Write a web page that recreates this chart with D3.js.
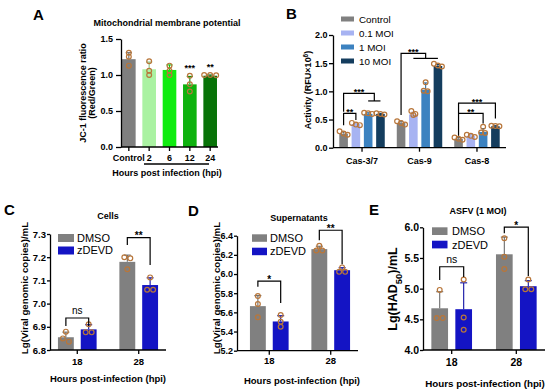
<!DOCTYPE html>
<html>
<head>
<meta charset="utf-8">
<script src="https://cdn.jsdelivr.net/npm/d3@7"></script>
<style>
  body { margin: 0; background: #fff; }
  svg text { font-family: "Liberation Sans", Arial, sans-serif; }
</style>
</head>
<body>
<svg id="fig" width="550" height="392"></svg>
<script>
// ---------- data ----------
// A: JC-1 ratio
var mmpGroups = ["Control", "2", "6", "12", "24"];
var mmpMean = [1.22, 1.08, 1.07, 0.87, 0.99];
var mmpSd = [0.09, 0.10, 0.07, 0.11, 0.01];
var mmpPts = [[1.31, 1.255, 1.13], [1.19, 1.06, 1.00], [1.13, 1.06, 1.00], [0.99, 0.87, 0.77], [1.00, 0.995, 1.00]];
var mmpStars = ["", "", "", "***", "**"];

// B: caspase activity
var casGroups = ["Cas-3/7", "Cas-9", "Cas-8"];
var moiNames = ["Control", "0.1 MOI", "1 MOI", "10 MOI"];
var casControl = [0.25, 0.44, 0.16];
var cas01 = [0.42, 0.59, 0.21];
var cas1 = [0.60, 1.03, 0.28];
var cas10 = [0.60, 1.45, 0.38];
var casControlSd = [0.03, 0.03, 0.02];
var cas01Sd = [0.02, 0.04, 0.02];
var cas1Sd = [0.02, 0.12, 0.06];
var cas10Sd = [0.01, 0.03, 0.01];
var casControlPts = [[0.29, 0.25, 0.23], [0.47, 0.44, 0.41], [0.18, 0.16, 0.14]];
var cas01Pts = [[0.44, 0.41, 0.40], [0.65, 0.60, 0.58], [0.23, 0.21, 0.19]];
var cas1Pts = [[0.62, 0.61, 0.60], [1.16, 1.01, 1.00], [0.37, 0.27, 0.26]];
var cas10Pts = [[0.61, 0.60, 0.59], [1.49, 1.46, 1.44], [0.39, 0.385, 0.38]];
// significance: group, from series, to series span, label, bracket top, left leg end, right leg end
var casSig = [
  { group: "Cas-3/7", from: 0, to: [1, 1], label: "**", top: 0.61, left: 0.40, right: 0.49 },
  { group: "Cas-3/7", from: 0, to: [2, 3], label: "***", top: 0.965, left: 0.64, right: 0.83 },
  { group: "Cas-9", from: 0, to: [1, 3], label: "***", top: 1.675, left: 0.58, right: 1.585 },
  { group: "Cas-8", from: 0, to: [3, 3], label: "***", top: 0.79, left: 0.61, right: 0.52 },
  { group: "Cas-8", from: 0, to: [2, 2], label: "**", top: 0.61, left: 0.21, right: 0.43 }
];

// C, D, E: zDEVD experiments
var hpiGroups = ["18", "28"];
var treatNames = ["DMSO", "zDEVD"];

var cellsDMSO = [6.855, 7.18];
var cellsZdevd = [6.889, 7.08];
var cellsDMSOSd = [0.022, 0.029];
var cellsZdevdSd = [0.020, 0.031];
var cellsDMSOPts = [[6.879, 6.850, 6.836], [7.200, 7.195, 7.148]];
var cellsZdevdPts = [[6.911, 6.876, 6.876], [7.113, 7.060, 7.060]];
var cellsSig = [
  { group: "18", from: 0, to: [1, 1], label: "ns", top: 6.938, left: 6.903, right: 6.903 },
  { group: "28", from: 0, to: [1, 1], label: "**", top: 7.284, left: 7.253, right: 7.166 }
];

var supDMSO = [5.665, 6.26];
var supZdevd = [5.505, 6.04];
var supDMSOSd = [0.11, 0.03];
var supZdevdSd = [0.06, 0.026];
var supDMSOPts = [[5.77, 5.687, 5.548], [6.294, 6.246, 6.246]];
var supZdevdPts = [[5.572, 5.502, 5.45], [6.069, 6.023, 6.023]];
var supSig = [
  { group: "18", from: 0, to: [1, 1], label: "*", top: 5.926, left: 5.867, right: 5.697 },
  { group: "28", from: 0, to: [1, 1], label: "**", top: 6.457, left: 6.353, right: 6.103 }
];

var asfvDMSO = [4.68, 5.56];
var asfvZdevd = [4.665, 5.04];
var asfvDMSOSd = [0.27, 0.28];
var asfvZdevdSd = [0.43, 0.09];
var asfvDMSOPts = [[4.98, 4.52, 4.52], [5.82, 5.52, 5.32]];
var asfvZdevdPts = [[5.15, 4.53, 4.33], [5.15, 4.99, 4.99]];
var asfvSig = [
  { group: "18", from: 0, to: [1, 1], label: "ns", top: 5.357, left: 5.14, right: 5.19 },
  { group: "28", from: 0, to: [1, 1], label: "*", top: 6.003, left: 5.905, right: 5.205 }
];

// ---------- drawing ----------
var svg = d3.select("#fig");
var ptColor = "#b8763a";

function bold(sel, size) {
  return sel.attr("font-weight", "bold").attr("font-size", size);
}

// spread points that overlap in y, like a small beeswarm
function dodge(vals, y, gap) {
  var order = vals.map(function(v, i) { return { v: v, i: i, py: y(v) }; })
    .sort(function(a, b) { return a.py - b.py; });
  var out = new Array(vals.length).fill(0);
  var k = 0;
  while (k < order.length) {
    var j = k;
    while (j + 1 < order.length && order[j + 1].py - order[k].py < 3.5) j++;
    var n = j - k + 1;
    for (var m = 0; m < n; m++) out[order[k + m].i] = (m - (n - 1) / 2) * gap;
    k = j + 1;
  }
  return out;
}

function drawPanel(p) {
  var g = svg.append("g");
  var y = d3.scaleLinear().domain(p.yDomain).range(p.yRange);
  var x0 = d3.scaleBand().domain(p.groups).range(p.xRange)
    .paddingInner(p.pad0[0]).paddingOuter(p.pad0[1]);
  var x1 = d3.scaleBand().domain(d3.range(p.series.length)).range([0, x0.bandwidth()])
    .paddingInner(p.pad1[0]).paddingOuter(p.pad1[1]);
  var base = y(p.yDomain[0]);
  var bw = x1.bandwidth();

  p.series.forEach(function(s, j) {
    p.groups.forEach(function(grp, i) {
      var col = p.color(i, j);
      var cx = x0(grp) + x1(j) + bw / 2;
      var m = p.means[j][i];
      g.append("rect")
        .attr("x", x0(grp) + x1(j)).attr("width", bw)
        .attr("y", y(m)).attr("height", base - y(m))
        .attr("fill", col);
      var ec = d3.color(col).darker(0.5);
      var top = y(m + p.sds[j][i]);
      var cw = Math.min(bw * 0.45, 7);
      g.append("line").attr("x1", cx).attr("x2", cx).attr("y1", y(m)).attr("y2", top)
        .attr("stroke", ec).attr("stroke-width", 1.1);
      g.append("line").attr("x1", cx - cw / 2).attr("x2", cx + cw / 2).attr("y1", top).attr("y2", top)
        .attr("stroke", ec).attr("stroke-width", 1.1);
      var vals = p.pts[j][i];
      var off = dodge(vals, y, p.ptGap);
      g.selectAll(null).data(vals).enter().append("circle")
        .attr("cx", function(d, k) { return cx + off[k]; })
        .attr("cy", function(d) { return y(d); })
        .attr("r", 2.4)
        .attr("fill", "none")
        .attr("stroke", ptColor)
        .attr("stroke-width", 1.2);
    });
  });

  // y axis
  var ya = g.append("g").attr("transform", "translate(" + p.axisX + ",0)")
    .call(d3.axisLeft(y).tickValues(p.yTicks).tickFormat(d3.format(".1f"))
      .tickSize(p.tickSize).tickSizeOuter(0).tickPadding(p.tickPad));
  ya.select(".domain").attr("stroke-width", 1.3);
  ya.selectAll(".tick line").attr("stroke-width", 1.3);
  bold(ya.selectAll("text"), p.tickFont).attr("fill", "#000");

  // x axis
  g.append("line").attr("x1", p.axisX).attr("x2", p.xRange[1])
    .attr("y1", base).attr("y2", base).attr("stroke", "#000").attr("stroke-width", 1.3);
  p.groups.forEach(function(grp) {
    var cx = x0(grp) + x0.bandwidth() / 2;
    g.append("line").attr("x1", cx).attr("x2", cx).attr("y1", base).attr("y2", base + 4)
      .attr("stroke", "#000").attr("stroke-width", 1.3);
    bold(g.append("text"), p.xTickFont || p.tickFont).attr("x", cx).attr("y", p.xLabelY)
      .attr("text-anchor", "middle").text(grp);
  });

  // significance brackets
  (p.sig || []).forEach(function(s) {
    var xl = x0(s.group) + x1(s.from) + bw / 2;
    var xa = x0(s.group) + x1(s.to[0]) + bw / 2;
    var xb = x0(s.group) + x1(s.to[1]) + bw / 2;
    var xr = (xa + xb) / 2;
    var path = "M" + xl + "," + y(s.left) + "V" + y(s.top) + "H" + xr + "V" + y(s.right);
    g.append("path").attr("d", path).attr("fill", "none").attr("stroke", "#000").attr("stroke-width", 1.2);
    if (s.to[1] > s.to[0]) {
      g.append("line").attr("x1", xa).attr("x2", xb).attr("y1", y(s.right)).attr("y2", y(s.right))
        .attr("stroke", "#000").attr("stroke-width", 1.2);
    }
    var isNs = s.label === "ns";
    var t = g.append("text").attr("x", (xl + xr) / 2)
      .attr("y", y(s.top) - (isNs ? 4 : -1.5))
      .attr("text-anchor", "middle").text(s.label);
    if (isNs) t.attr("font-size", p.nsFont);
    else bold(t, p.starFont);
  });

  // per-bar stars (panel A)
  (p.stars || []).forEach(function(st, i) {
    if (!st) return;
    var grp = p.groups[i];
    var cx = x0(grp) + x0.bandwidth() / 2;
    bold(g.append("text"), 9).attr("x", cx).attr("y", y(p.means[0][i] + p.sds[0][i]) - 5)
      .attr("text-anchor", "middle").text(st);
  });

  // legend
  if (p.legend) {
    p.series.forEach(function(s, j) {
      var ly = p.legend.y + j * p.legend.dy;
      g.append("rect").attr("x", p.legend.x).attr("y", ly)
        .attr("width", p.legend.w).attr("height", p.legend.h).attr("fill", p.color(0, j));
      g.append("text").attr("x", p.legend.tx).attr("y", ly + p.legend.h / 2)
        .attr("dy", "0.36em").attr("font-size", p.legend.font).text(s);
    });
  }
  return { x0: x0, y: y };
}

function letter(txt, x, yb) {
  bold(svg.append("text"), 15).attr("x", x).attr("y", yb).text(txt);
}

function yLabel(lines, cy, size) {
  lines.forEach(function(l) {
    var t = bold(svg.append("text"), size)
      .attr("transform", "translate(" + l.x + "," + cy + ") rotate(-90)")
      .attr("text-anchor", "middle");
    l.parts.forEach(function(part) {
      var ts = t.append("tspan").text(part.t);
      if (part.sup) ts.attr("baseline-shift", "super").attr("font-size", size * 0.7);
      if (part.sub) ts.attr("baseline-shift", "sub").attr("font-size", size * 0.75);
    });
  });
}

function centerText(txt, x, yb, size) {
  return bold(svg.append("text"), size).attr("x", x).attr("y", yb).attr("text-anchor", "middle").text(txt);
}

// ----- Panel A -----
var greenCols = ["#7f7f7f", "#aaf2a2", "#10ec10", "#0eb20e", "#087308"];
drawPanel({
  groups: mmpGroups, series: ["ratio"],
  means: [mmpMean], sds: [mmpSd], pts: [mmpPts], stars: mmpStars,
  color: function(i) { return greenCols[i]; },
  yDomain: [0, 1.5], yRange: [147, 39], yTicks: [0, 0.5, 1.0, 1.5],
  xRange: [121, 218], axisX: 121, pad0: [0.33, 0.05], pad1: [0, 0],
  tickSize: 5, tickPad: 3, tickFont: 9, xLabelY: 160.5, ptGap: 6,
  starFont: 9, nsFont: 9
});
letter("A", 33, 20);
centerText("Mitochondrial membrane potential", 167, 25.5, 9);
svg.append("line").attr("x1", 144).attr("x2", 209).attr("y1", 164).attr("y2", 164)
  .attr("stroke", "#000").attr("stroke-width", 1.3);
centerText("Hours post infection (hpi)", 167, 176, 9);
yLabel([
  { x: 85.5, parts: [{ t: "JC-1 fluorescence ratio" }] },
  { x: 95, parts: [{ t: "(Red/Green)" }] }
], 93, 9);

// ----- Panel B -----
var blueCols = ["#808080", "#a7b3f2", "#3c82c0", "#143d5e"];
drawPanel({
  groups: casGroups, series: moiNames,
  means: [casControl, cas01, cas1, cas10],
  sds: [casControlSd, cas01Sd, cas1Sd, cas10Sd],
  pts: [casControlPts, cas01Pts, cas1Pts, cas10Pts],
  sig: casSig,
  color: function(i, j) { return blueCols[j]; },
  yDomain: [0, 2], yRange: [147.7, 35], yTicks: [0, 0.5, 1.0, 1.5, 2.0],
  xRange: [333, 506], axisX: 333, pad0: [0.1, 0.055], pad1: [0.3, 0.255],
  tickSize: 4, tickPad: 1.5, tickFont: 9, xLabelY: 163.5, ptGap: 4,
  starFont: 9, nsFont: 9,
  legend: { x: 341, y: 16.5, dy: 14, w: 13, h: 5, tx: 359, font: 9.8 }
});
letter("B", 286, 18.5);
yLabel([
  { x: 311, parts: [{ t: "Activity (RFU\u00d710" }, { t: "6", sup: true }, { t: ")" }] }
], 90, 9);

// ----- Panels C, D, E -----
var treatCols = ["#808080", "#1414c4"];
function treatColor(i, j) { return treatCols[j]; }

drawPanel({
  groups: hpiGroups, series: treatNames,
  means: [cellsDMSO, cellsZdevd], sds: [cellsDMSOSd, cellsZdevdSd],
  pts: [cellsDMSOPts, cellsZdevdPts], sig: cellsSig, color: treatColor,
  yDomain: [6.8, 7.3], yRange: [350, 234], yTicks: [6.8, 6.9, 7.0, 7.1, 7.2, 7.3],
  xRange: [50, 166], axisX: 50, pad0: [0.3, 0.094], pad1: [0.304, 0.095],
  tickSize: 3, tickPad: 1, tickFont: 9.5, xLabelY: 365, ptGap: 6,
  starFont: 10, nsFont: 10,
  legend: { x: 58, y: 234, dy: 12.5, w: 16, h: 8, tx: 77, font: 11 }
});
letter("C", 4, 215);
centerText("Cells", 108, 218.5, 9);
centerText("Hours post-infection (hpi)", 108, 381.5, 9.5);
yLabel([{ x: 27.5, parts: [{ t: "Lg(Viral genomic copies)/mL" }] }], 288, 9.7);

drawPanel({
  groups: hpiGroups, series: treatNames,
  means: [supDMSO, supZdevd], sds: [supDMSOSd, supZdevdSd],
  pts: [supDMSOPts, supZdevdPts], sig: supSig, color: treatColor,
  yDomain: [5.2, 6.4], yRange: [350.7, 235.7], yTicks: [5.2, 5.4, 5.6, 5.8, 6.0, 6.2, 6.4],
  xRange: [242, 358], axisX: 237, pad0: [0.3, 0.094], pad1: [0.304, 0.095],
  tickSize: 3, tickPad: 1, tickFont: 9, xTickFont: 9.5, xLabelY: 364, ptGap: 6,
  starFont: 10, nsFont: 10,
  legend: { x: 252, y: 234.3, dy: 13.4, w: 15, h: 7.5, tx: 270, font: 11 }
});
letter("D", 188, 216);
centerText("Supernatants", 299, 221, 9);
centerText("Hours post-infection (hpi)", 302, 383.5, 9.5);
yLabel([{ x: 219.5, parts: [{ t: "Lg(Viral genomic copies)/mL" }] }], 288, 9.7);

drawPanel({
  groups: hpiGroups, series: treatNames,
  means: [asfvDMSO, asfvZdevd], sds: [asfvDMSOSd, asfvZdevdSd],
  pts: [asfvDMSOPts, asfvZdevdPts], sig: asfvSig, color: treatColor,
  yDomain: [4.0, 6.0], yRange: [350, 227.3], yTicks: [4.0, 4.5, 5.0, 5.5, 6.0],
  xRange: [423, 545], axisX: 423, pad0: [0.3, 0.094], pad1: [0.304, 0.095],
  tickSize: 3, tickPad: 1, tickFont: 10.5, xLabelY: 365.5, ptGap: 6,
  starFont: 10, nsFont: 10.5,
  legend: { x: 432, y: 227.3, dy: 13.4, w: 15.5, h: 7.7, tx: 452, font: 11 }
});
letter("E", 369, 215);
centerText("ASFV (1 MOI)", 478, 213.5, 9);
centerText("Hours post-infection (hpi)", 485, 386.5, 9.8);
yLabel([{ x: 397, parts: [{ t: "Lg(HAD" }, { t: "50", sub: true }, { t: ")/mL" }] }], 289, 12.5);
</script>
</body>
</html>
